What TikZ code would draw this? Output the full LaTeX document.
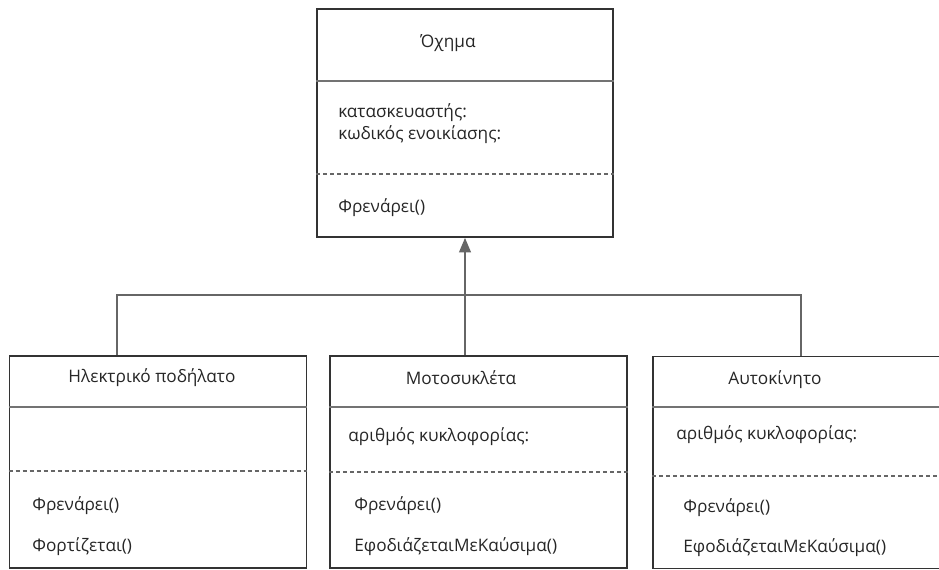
\documentclass[tikz,border=0pt]{standalone}
\usepackage{fontspec}
\setmainfont{Open Sans}
\usepackage{tikz}
\usetikzlibrary{arrows, positioning}

\begin{document}
\begin{tikzpicture}[x=0.02cm, y=-0.02cm,
  box/.style={draw=black!80, line width=1.1pt, minimum width=5.94cm, minimum height=4.24cm, inner sep=0pt},
  part/.style={draw=black!55, line width=0.8pt},
  dashpart/.style={draw=black!60, line width=0.8pt, dash pattern=on 2.3pt off 1.7pt},
  link/.style={draw=black!60, line width=0.9pt},
  title/.style={text=black!85, font=\fontsize{9.8}{12}\selectfont},
  entry/.style={title, anchor=west, inner sep=0pt}]

\useasboundingbox (0,0) rectangle (939,569);
\clip (0,0) rectangle (939,569);

% nodes
\node[box, minimum width=5.92cm, minimum height=4.56cm] (V) at (465,123) {};
\node[box] (E) at (158,462) {};
\node[box] (M) at (478.5,462) {};
\node[box] (A) at (801.5,462.5) {};

\coordinate (eLink) at (117,295);
\coordinate (aLink) at (801,295);

% compartments
\draw[part] (V.west |- 0,81) -- (V.east |- 0,81);
\draw[dashpart] (V.west |- 0,174) -- (V.east |- 0,174);

\draw[part] (E.west |- 0,407) -- (E.east |- 0,407);
\draw[dashpart] (E.west |- 0,471) -- (E.east |- 0,471);

\draw[part] (M.west |- 0,407) -- (M.east |- 0,407);
\draw[dashpart] (M.west |- 0,472) -- (M.east |- 0,472);

\draw[part] (A.west |- 0,407) -- (A.east |- 0,407);
\draw[dashpart] (A.west |- 0,476) -- (A.east |- 0,476);

% texts
\node[title] (Vname) at (448,43) {Όχημα};
\node[entry] (Vmaker) at (338,113) {κατασκευαστής:};
\node[entry] (Vcode) at (338,135) {κωδικός ενοικίασης:};
\node[entry] (Vbrake) at (338,208) {Φρενάρει()};

\node[title] (Ename) at (152,378) {Ηλεκτρικό ποδήλατο};
\node[entry] (Ebrake) at (32,506) {Φρενάρει()};
\node[entry] (Echarge) at (32,547) {Φορτίζεται()};

\node[title] (Mname) at (461,378) {Μοτοσυκλέτα};
\node[entry] (Mplate) at (348,437) {αριθμός κυκλοφορίας:};
\node[entry] (Mbrake) at (354,506) {Φρενάρει()};
\node[entry] (Mfuel) at (354,547) {ΕφοδιάζεταιΜεΚαύσιμα()};

\node[title] (Aname) at (775,380) {Αυτοκίνητο};
\node[entry] (Aplate) at (676,435) {αριθμός κυκλοφορίας:};
\node[entry] (Abrake) at (683,508) {Φρενάρει()};
\node[entry] (Afuel) at (683,548) {ΕφοδιάζεταιΜεΚαύσιμα()};

% arrows
\draw[link] (E.north -| eLink) -- (eLink) -- (aLink) -- (A.north -| aLink);
\draw[link, -triangle 45, fill=black!85] (M.north -| V.south) -- (V.south);

\end{tikzpicture}
\end{document}
